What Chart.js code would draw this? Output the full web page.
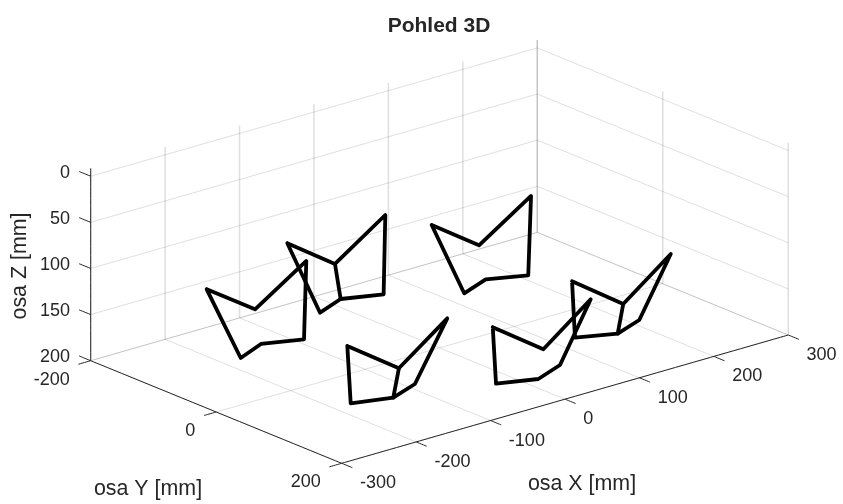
<!DOCTYPE html>
<html>
<head>
<meta charset="utf-8">
<title>Pohled 3D</title>
<script src="https://cdn.jsdelivr.net/npm/chart.js@4"></script>
<style>
  html, body { margin: 0; padding: 0; background: #fff; }
  canvas { display: block; }
</style>
</head>
<body>
<canvas id="pohled" width="843" height="504"></canvas>
<script>
(function() {
  'use strict';

  // Tick values
  const xTicks = [-300, -200, -100, 0, 100, 200, 300];
  const yTicks = [-200, 0, 200];
  const zTicks = [0, 50, 100, 150, 200];
  const zTop = -8.5; // axis runs slightly past z = 0

  // Legs, points as [x, y, z] in mm
  const noha1 = [[-293.2, -23.2, 75], [-213.6, -40.6, 120], [-160, -22.5, 75], [-161.6, -24.2, 160], [-204.6, -41.8, 160], [-247.7, -23, 160]];
  const noha2 = [[-140.8, -75.5, 75], [-63, -91.8, 120], [-8.9, -75.8, 75], [-11.9, -74.9, 160], [-54.9, -92.4, 160], [-97.6, -74.6, 160]];
  const noha3 = [[-291.7, 199.1, 75], [-213.9, 189, 120], [-159.4, 201.5, 75], [-160.4, 151.1, 160], [-203.9, 168.2, 160], [-248.3, 153, 160]];
  const noha4 = [[-140.8, 251.9, 75], [-63.3, 240.6, 120], [-9.5, 252.3, 75], [-9.2, 203, 160], [-53.4, 220.8, 160], [-95.8, 203.7, 160]];
  const noha5 = [[10.5, 198.8, 75], [87.2, 189.4, 120], [141.1, 201.2, 75], [140.2, 152.1, 160], [96.8, 169.2, 160], [55.3, 150.3, 160]];
  const noha6 = [[8.4, -22.4, 75], [86.7, -39.9, 120], [142.8, -23.5, 75], [138.9, -23.3, 160], [97.6, -42.1, 160], [53.6, -24.2, 160]];

  // Which points make up the outline, and the extra strut on legs 2, 3 and 5
  const outline = [0, 1, 2, 3, 4, 5, 0];
  const strut = [1, 4];

  // Orthographic view of the 3D axes onto the page
  function project(x, y, z) {
    return {
      x: 341.7 + (x + 300) * 0.7443 + (y - 200) * 0.6275,
      y: 463.3 - (x + 300) * 0.2138 + (y - 200) * 0.2565 + (z - 200) * 0.9225
    };
  }

  const GRID = 'rgba(38,38,38,0.15)';
  const AXIS = '#262626';

  function segment(a, b, color, width) {
    return {
      data: [project(a[0], a[1], a[2]), project(b[0], b[1], b[2])],
      showLine: true,
      pointRadius: 0,
      borderColor: color,
      borderWidth: width,
      tension: 0.001 // keeps Chart.js off its fast path, which snaps verticals to whole pixels
    };
  }

  function legPath(points, order) {
    return {
      data: order.map(i => project(points[i][0], points[i][1], points[i][2])),
      showLine: true,
      pointRadius: 0,
      borderColor: '#000',
      borderWidth: 3.8,
      borderJoinStyle: 'round',
      borderCapStyle: 'round'
    };
  }

  const datasets = [];

  // Legs first, so they sit on top
  [noha1, noha2, noha3, noha4, noha5, noha6].forEach(n => datasets.push(legPath(n, outline)));
  [noha2, noha3, noha5].forEach(n => datasets.push(legPath(n, strut)));

  // Axis lines
  datasets.push(segment([-300, -200, zTop], [-300, -200, 200], AXIS, 1));
  datasets.push(segment([-300, -200, 200], [-300, 200, 200], AXIS, 1));
  datasets.push(segment([-300, 200, 200], [300, 200, 200], AXIS, 1));

  // Tick marks
  zTicks.forEach(z => datasets.push(segment([-300, -200, z], [-300, -218.6, z], AXIS, 1)));
  yTicks.forEach(y => datasets.push(segment([-300, y, 200], [-316.5, y, 200], AXIS, 1)));
  xTicks.forEach(x => datasets.push(segment([x, 200, 200], [x, 217, 200], AXIS, 1)));

  // Grid on the floor and the two back walls
  xTicks.forEach(x => {
    datasets.push(segment([x, -200, 200], [x, 200, 200], GRID, 1));
    datasets.push(segment([x, -200, zTop], [x, -200, 200], GRID, 1.5));
  });
  yTicks.forEach(y => {
    datasets.push(segment([-300, y, 200], [300, y, 200], GRID, 1));
    datasets.push(segment([300, y, zTop], [300, y, 200], GRID, 1.5));
  });
  zTicks.forEach(z => {
    datasets.push(segment([-300, -200, z], [300, -200, z], GRID, 1));
    datasets.push(segment([300, -200, z], [300, 200, z], GRID, 1));
  });

  // Text goes on in one place, next to the projected ticks
  const textPlugin = {
    id: 'axisText',
    afterDraw(chart) {
      const ctx = chart.ctx;
      const sx = chart.scales.x;
      const sy = chart.scales.y;
      function put(text, px, py, align, font, rot) {
        ctx.save();
        ctx.translate(sx.getPixelForValue(px), sy.getPixelForValue(py));
        if (rot) ctx.rotate(rot);
        ctx.font = font;
        ctx.fillStyle = AXIS;
        ctx.textAlign = align;
        ctx.textBaseline = 'middle';
        ctx.fillText(text, 0, 0);
        ctx.restore();
      }
      const tickFont = '18px "Liberation Sans", Arial, sans-serif';
      const labelFont = '21.4px "Liberation Sans", Arial, sans-serif';

      xTicks.forEach(x => {
        const p = project(x, 200, 200);
        put(String(x), p.x + 18.3, p.y + 20, 'left', tickFont);
      });
      yTicks.forEach(y => {
        const p = project(-300, y, 200);
        put(String(y), p.x - 21, p.y + 19, 'right', tickFont);
      });
      zTicks.forEach(z => {
        const p = project(-300, -200, z);
        put(String(z), 70, p.y - 3.5, 'right', tickFont);
      });

      put('Pohled 3D', 439, 26, 'center', 'bold 21px "Liberation Sans", Arial, sans-serif');
      put('osa X [mm]', 582, 484, 'center', labelFont);
      put('osa Y [mm]', 148, 489, 'center', labelFont);
      put('osa Z [mm]', 20, 266, 'center', labelFont, -Math.PI / 2);
    }
  };

  new Chart(document.getElementById('pohled'), {
    type: 'scatter',
    data: { datasets: datasets },
    plugins: [textPlugin],
    options: {
      responsive: false,
      animation: false,
      layout: { padding: 0 },
      plugins: { legend: { display: false }, tooltip: { enabled: false } },
      scales: {
        x: { display: false, min: 0, max: 843 },
        y: { display: false, min: 0, max: 504, reverse: true }
      }
    }
  });
})();
</script>
</body>
</html>
